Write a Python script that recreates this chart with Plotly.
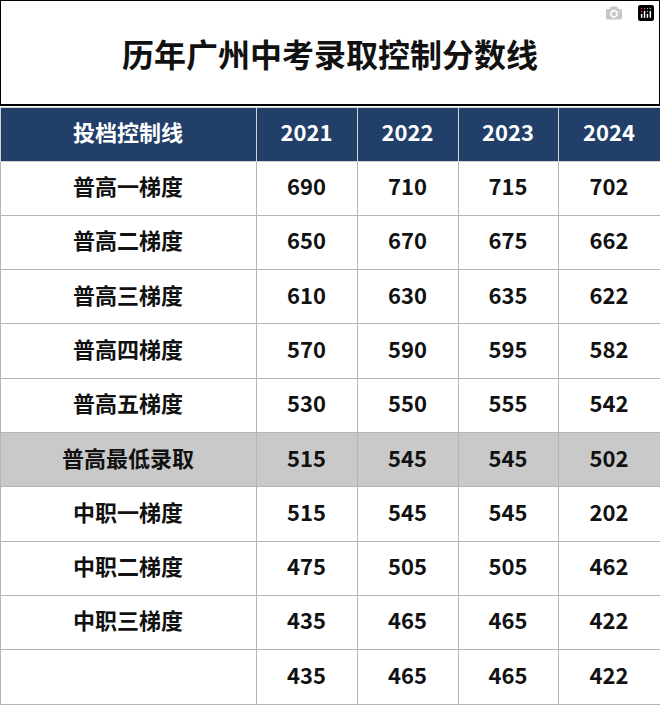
import plotly.graph_objects as go

title = "历年广州中考录取控制分数线"
header = ["投档控制线", "2021", "2022", "2023", "2024"]
categories = ["普高一梯度", "普高二梯度", "普高三梯度", "普高四梯度", "普高五梯度",
              "普高最低录取", "中职一梯度", "中职二梯度", "中职三梯度", ""]
y2021 = [690, 650, 610, 570, 530, 515, 515, 475, 435, 435]
y2022 = [710, 670, 630, 590, 550, 545, 545, 505, 465, 465]
y2023 = [715, 675, 635, 595, 555, 545, 545, 505, 465, 465]
y2024 = [702, 662, 622, 582, 542, 502, 202, 462, 422, 422]

W, H = 660, 705
top = 107

row_fill = ["#c9c9c9" if c == "普高最低录取" else "white" for c in categories]
bold = lambda vals: [f"<b>{v}</b>" for v in vals]

fig = go.Figure(go.Table(
    domain=dict(x=[0, 1], y=[0, (H - top) / H]),
    columnwidth=[256, 101, 101, 100, 102],
    header=dict(
        values=bold(header),
        fill_color="#213f69",
        line=dict(color="#d0d0d0", width=1),
        font=dict(family="Noto Sans CJK SC", size=22, color="white"),
        align="center",
        height=54,
    ),
    cells=dict(
        values=[bold(categories), bold(y2021), bold(y2022), bold(y2023), bold(y2024)],
        fill_color=[row_fill] * 5,
        line=dict(color="#b5b5b5", width=1),
        font=dict(family="Noto Sans CJK SC", size=22, color="#111111"),
        align="center",
        height=54.3,
    ),
))

fig.add_shape(type="rect", xref="paper", yref="paper",
              x0=0, x1=1, y0=(H - top + 2) / H, y1=1,
              line=dict(color="black", width=2), fillcolor="white", layer="below")
fig.add_annotation(text=f"<b>{title}</b>", xref="paper", yref="paper",
                   x=0.5, y=(H - 53) / H, yanchor="middle", showarrow=False,
                   font=dict(family="Noto Sans CJK SC", size=32, color="#111111"))

fig.update_layout(width=W, height=H, margin=dict(l=0, r=0, t=0, b=0),
                  paper_bgcolor="white")
fig.write_html("out.html", post_script="document.body.style.margin='0';")
